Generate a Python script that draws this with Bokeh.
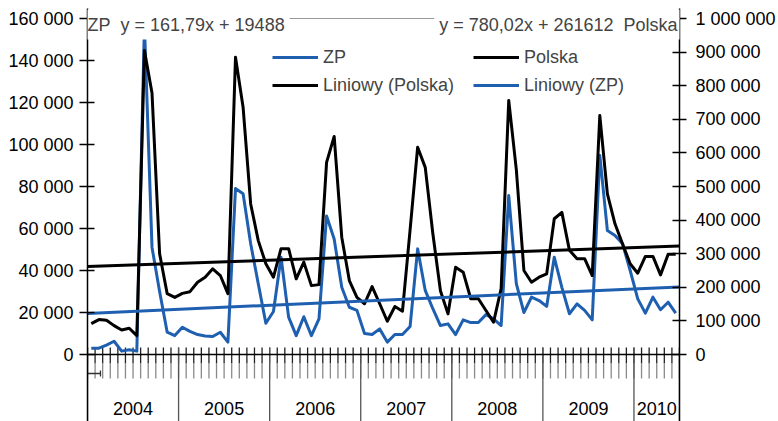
from bokeh.plotting import figure
from bokeh.models import Range1d, LinearAxis, FixedTicker, Legend, LegendItem, Label, Span
from bokeh.core.properties import value
from bokeh.embed import file_html
from bokeh.resources import INLINE

# ---------------- data ----------------
years = ["2004", "2005", "2006", "2007", "2008", "2009", "2010"]
months_in_year = [12, 12, 12, 12, 12, 12, 6]

zp = [3000, 3000, 4500, 6300, 1600, 2300, 1600, 157000, 51000, 30000,
      10600, 9000, 13000, 11000, 9500, 8800, 8600, 10600, 5900, 79000,
      76500, 52700, 33700, 14900, 20500, 46300, 17800, 9000, 18000, 9000,
      17000, 66000, 55000, 32000, 22500, 21000, 10000, 9500, 12200, 5900,
      9500, 9500, 13300, 50300, 30500, 21800, 13800, 14600, 9500, 16500,
      15200, 15200, 19000, 17000, 13800, 75700, 33700, 20000, 27300, 25700,
      22900, 46300, 32000, 19400, 24100, 21000, 16500, 94800, 59000, 56700,
      52700, 40000, 26500, 19700, 27300, 21300, 24900, 19700]

polska = [92000, 104000, 102000, 86000, 73000, 78000, 56000, 905000, 778000, 300000,
          181000, 170000, 182000, 187000, 215000, 230000, 255000, 235000, 181000, 885000,
          736000, 448000, 339000, 270000, 230000, 315000, 315000, 225000, 275000, 205000,
          208000, 572000, 649000, 349000, 220000, 170000, 151000, 202000, 151000, 99000,
          143000, 129000, 370000, 617000, 557000, 360000, 190000, 121000, 260000, 245000,
          166000, 166000, 131000, 96000, 196000, 756000, 550000, 250000, 215000, 230000,
          240000, 404000, 423000, 310000, 285000, 285000, 235000, 711000, 478000, 389000,
          329000, 270000, 242000, 292000, 292000, 237000, 298000, 298000]

zp_slope, zp_intercept = 161.79, 19488
pl_slope, pl_intercept = 780.02, 261612
zp_eq = "y = 161,79x + 19488"
pl_eq = "y = 780,02x + 261612"

left_ticks = [0, 20000, 40000, 60000, 80000, 100000, 120000, 140000, 160000]
left_labels = ["0", "20 000", "40 000", "60 000", "80 000", "100 000",
               "120 000", "140 000", "160 000"]
right_ticks = [0, 100000, 200000, 300000, 400000, 500000, 600000, 700000,
               800000, 900000, 1000000]
right_labels = ["0", "100 000", "200 000", "300 000", "400 000", "500 000",
                "600 000", "700 000", "800 000", "900 000", "1 000 000"]

# ---------------- styling / geometry ----------------
FONT = "Liberation Sans"
FS = "18px"
BLUE = "#1f5fb0"
W, H = 778, 421
F_LEFT, F_RIGHT, F_TOP, F_BOTTOM = 87, 680, 8, 421   # frame in pixels
Y_TOP_PX, Y_ZERO_PX = 18, 354                         # pixel rows of axis max and of 0
PXL = left_ticks[-1] / (Y_ZERO_PX - Y_TOP_PX)         # left-axis units per pixel
PXR = right_ticks[-1] / (Y_ZERO_PX - Y_TOP_PX)        # right-axis units per pixel

n = len(zp)
xs = [k + 0.5 for k in range(n)]
bounds = [0]
for m in months_in_year:
    bounds.append(bounds[-1] + m)
XPX = (F_RIGHT - F_LEFT) / bounds[-1]

p = figure(width=W, height=H, x_range=Range1d(0, bounds[-1]),
           y_range=Range1d(-(F_BOTTOM - Y_ZERO_PX) * PXL, left_ticks[-1] + (Y_TOP_PX - F_TOP) * PXL),
           output_backend="svg", toolbar_location=None,
           x_axis_type=None, y_axis_type=None,
           min_border_left=F_LEFT, min_border_right=W - F_RIGHT,
           min_border_top=F_TOP, min_border_bottom=H - F_BOTTOM)
p.outline_line_color = None
p.extra_y_ranges = {"right": Range1d(-(F_BOTTOM - Y_ZERO_PX) * PXR,
                                     right_ticks[-1] + (Y_TOP_PX - F_TOP) * PXR)}

def style_axis(ax):
    ax.axis_line_color = "black"
    ax.axis_line_width = 1.5
    ax.major_tick_line_color = "black"
    ax.major_tick_line_width = 1.5
    ax.minor_tick_line_color = None
    ax.major_label_text_font = FONT
    ax.major_label_text_font_size = FS
    ax.major_label_text_color = "black"

la = LinearAxis(ticker=FixedTicker(ticks=left_ticks, minor_ticks=[]),
                major_label_overrides=dict(zip(left_ticks, left_labels)))
style_axis(la)
la.major_tick_in = 7
la.major_tick_out = 8
la.major_label_standoff = 6
p.add_layout(la, "left")

ra = LinearAxis(y_range_name="right",
                ticker=FixedTicker(ticks=right_ticks, minor_ticks=[]),
                major_label_overrides=dict(zip(right_ticks, right_labels)))
style_axis(ra)
ra.major_tick_in = 7
ra.major_tick_out = 7
ra.major_label_standoff = 9
p.add_layout(ra, "right")

# ---------------- category (x) axis drawn inside the frame ----------------
month_ticks = list(range(bounds[-1] + 1))
p.segment(x0=month_ticks, y0=[7 * PXL] * len(month_ticks), x1=month_ticks,
          y1=[-9 * PXL] * len(month_ticks), line_color="#222222", line_width=1.3)
p.segment(x0=month_ticks, y0=[-9 * PXL] * len(month_ticks), x1=month_ticks,
          y1=[-24 * PXL] * len(month_ticks), line_color="#8a8a8a", line_width=1.3)
p.segment(x0=bounds, y0=[7 * PXL] * len(bounds), x1=bounds,
          y1=[-(F_BOTTOM - Y_ZERO_PX) * PXL] * len(bounds), line_color="#555555", line_width=1.3)
p.line([0, bounds[-1]], [0, 0], line_color="black", line_width=1.5)
# small bracket mark under the first months
p.segment(x0=[0, 13 / XPX], y0=[-19 * PXL, -16 * PXL], x1=[13 / XPX, 13 / XPX],
          y1=[-19 * PXL, -22 * PXL], line_color="#333333", line_width=1.3)
p.text(x=[(bounds[i] + bounds[i + 1]) / 2 for i in range(len(years))],
       y=[-(408 - Y_ZERO_PX) * PXL] * len(years), text=years,
       text_font=value(FONT), text_font_size=FS, text_color="black",
       text_align="center", text_baseline="middle")

# ---------------- series ----------------
r_zp = p.line(xs, zp, color=BLUE, line_width=3, line_join="round")
r_pl = p.line(xs, polska, color="black", line_width=3, line_join="round",
              y_range_name="right")

tx = [0, bounds[-1]]
zp_trend = [zp_slope * (t + 0.5) + zp_intercept for t in tx]
pl_trend = [pl_slope * (t + 0.5) + pl_intercept for t in tx]
r_pt = p.line(tx, pl_trend, color="black", line_width=3, y_range_name="right")
r_zt = p.line(tx, zp_trend, color=BLUE, line_width=3)

legend = Legend(items=[LegendItem(label="ZP", renderers=[r_zp]),
                       LegendItem(label="Polska", renderers=[r_pl]),
                       LegendItem(label="Liniowy (Polska)\u00a0\u00a0\u00a0", renderers=[r_pt]),
                       LegendItem(label="Liniowy (ZP)", renderers=[r_zt])],
                orientation="horizontal", ncols=2,
                location=(272 - F_LEFT, F_BOTTOM - 97))
legend.label_text_font = FONT
legend.label_text_font_size = FS
legend.glyph_width = 46
legend.glyph_height = 24
legend.label_height = 24
legend.label_standoff = 5
legend.spacing = 4
legend.padding = 0
legend.margin = 0
legend.border_line_color = None
legend.background_fill_alpha = 0
p.add_layout(legend, "center")

# top border of the plot area
p.add_layout(Span(location=left_ticks[-1], dimension="width", line_color="#999999", line_width=1))

# trendline equations
p.add_layout(Label(x=-5 / XPX, y=left_ticks[-1] - (24 - Y_TOP_PX) * PXL,
                   text="ZP\u00a0 " + zp_eq,
                   text_font=FONT, text_font_size=FS, text_baseline="middle",
                   text_align="left", background_fill_color="white", padding=5))
p.add_layout(Label(x=(683 - F_LEFT) / XPX, y=left_ticks[-1] - (24 - Y_TOP_PX) * PXL,
                   text=pl_eq + "\u00a0\u00a0Polska",
                   text_font=FONT, text_font_size=FS, text_baseline="middle",
                   text_align="right", background_fill_color="white", padding=5))

open("out.html", "w").write(file_html(p, INLINE))
